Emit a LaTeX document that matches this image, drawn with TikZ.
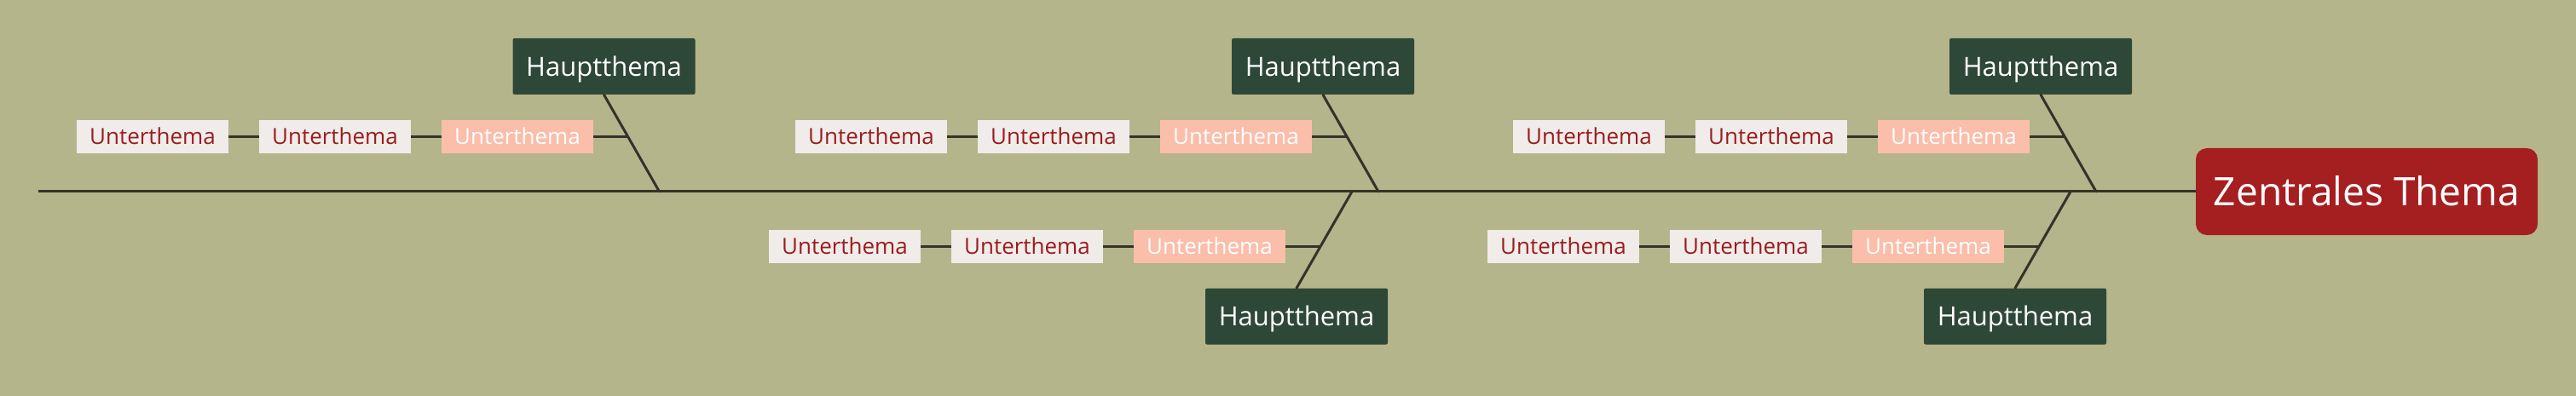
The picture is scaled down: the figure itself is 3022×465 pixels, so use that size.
\documentclass[tikz,border=0pt]{standalone}
\usepackage{fontspec}
\setmainfont{Open Sans}
\definecolor{bg}{RGB}{180,181,139}
\definecolor{hgreen}{RGB}{46,72,56}
\definecolor{zred}{RGB}{165,30,32}
\definecolor{pinkbox}{RGB}{250,190,170}
\definecolor{greybox}{RGB}{240,236,234}
\definecolor{subtext}{RGB}{155,27,30}
\definecolor{linec}{RGB}{51,51,41}
\tikzset{
  haupt/.style={fill=hgreen,text=white,rounded corners=2pt,minimum width=214pt,minimum height=66pt,inner sep=0pt,
    font=\fontsize{31pt}{36pt}\selectfont,text height=22.1pt,text depth=0pt},
  subg/.style={fill=greybox,text=subtext,minimum width=178pt,minimum height=39pt,inner sep=0pt,
    font=\fontsize{26pt}{30pt}\selectfont,text height=18.6pt,text depth=0pt},
  subp/.style={subg,fill=pinkbox,text=white},
  zentral/.style={fill=zred,text=white,rounded corners=13pt,minimum width=401pt,minimum height=102pt,inner sep=0pt,
    font=\fontsize{46pt}{52pt}\selectfont,text height=32.8pt,text depth=0pt},
  conn/.style={draw=linec,line width=3pt}
}
\begin{document}
\begin{tikzpicture}[x=1pt,y=-1pt]
\fill[bg] (0,0) rectangle (3022,465);
\useasboundingbox (0,0) rectangle (3022,465);
% central
\node[zentral] (z) at (2776.5,225) {Zentrales Thema};
\coordinate (s0) at (45,225);
% spine junctions
\coordinate (p1) at (773.5,225);
\coordinate (p2) at (1617,225);
\coordinate (p3) at (2459,225);
\coordinate (p4) at (1586,225);
\coordinate (p5) at (2429,225);
% main topics
\node[haupt] (h1) at (708.5,78) {Hauptthema};
\node[haupt] (h2) at (1552,78) {Hauptthema};
\node[haupt] (h3) at (2394,78) {Hauptthema};
\node[haupt] (h4) at (1521,371.5) {Hauptthema};
\node[haupt] (h5) at (2364,371.5) {Hauptthema};
% junctions on diagonals
\coordinate (j1) at (736.5,160.5);
\coordinate (j2) at (1580,160.5);
\coordinate (j3) at (2422,160.5);
\coordinate (j4) at (1549,289.5);
\coordinate (j5) at (2392,289.5);
% subtopics
\node[subg] (a1) at (179,160.5) {Unterthema};
\node[subg] (b1) at (393,160.5) {Unterthema};
\node[subp] (c1) at (607,160.5) {Unterthema};
\node[subg] (a2) at (1022,160.5) {Unterthema};
\node[subg] (b2) at (1236,160.5) {Unterthema};
\node[subp] (c2) at (1450,160.5) {Unterthema};
\node[subg] (a3) at (1864,160.5) {Unterthema};
\node[subg] (b3) at (2078,160.5) {Unterthema};
\node[subp] (c3) at (2292,160.5) {Unterthema};
\node[subg] (a4) at (991,289.5) {Unterthema};
\node[subg] (b4) at (1205,289.5) {Unterthema};
\node[subp] (c4) at (1419,289.5) {Unterthema};
\node[subg] (a5) at (1834,289.5) {Unterthema};
\node[subg] (b5) at (2048,289.5) {Unterthema};
\node[subp] (c5) at (2262,289.5) {Unterthema};
% connectors
\draw[conn] (s0) -- (z.west);
\foreach \i in {1,2,3} {
  \draw[conn,line cap=round] (h\i.south) -- (p\i);
}
\foreach \i in {4,5} {
  \draw[conn,line cap=round] (h\i.north) -- (p\i);
}
\foreach \i in {1,...,5} {
  \draw[conn] (a\i.east) -- (b\i.west);
  \draw[conn] (b\i.east) -- (c\i.west);
  \draw[conn] (c\i.east) -- (j\i);
}
\end{tikzpicture}
\end{document}
